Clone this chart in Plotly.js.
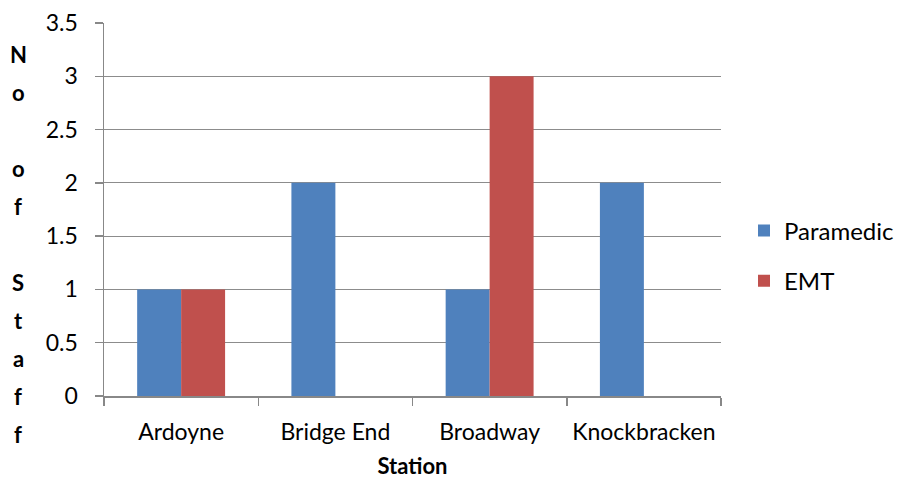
<!DOCTYPE html>
<html><head><meta charset="utf-8">
<script src="https://cdn.plot.ly/plotly-3.0.1.min.js"></script>
<style>html,body{margin:0;padding:0;background:#fff}#chart{width:902px;height:479px}</style>
</head><body><div id="chart"></div>
<script>
const stations = ["Ardoyne", "Bridge End", "Broadway", "Knockbracken"];
const paramedic = [1, 2, 1, 2];
const emt = [1, 0, 3, 0];
const seriesNames = ["Paramedic", "EMT"];
const yTitle = "No of Staff";
const xTitle = "Station";
const yTicks = [0, 0.5, 1, 1.5, 2, 2.5, 3, 3.5];

const FONT = "Lato, sans-serif";
const W = 902, H = 479;
const M = {l: 104, r: 181, t: 23, b: 83};
const plotH = H - M.t - M.b;

// vertical stacked y-axis title, one character per line
const letterAnns = [];
const chars = yTitle.split("");
chars.forEach((c, i) => {
  if (c === " ") return;
  const py = 54 + i * 38;
  letterAnns.push({
    text: "<b>" + c + "</b>", xref: "paper", yref: "paper",
    x: (18 - M.l) / (W - M.l - M.r), y: (H - M.b - py) / plotH,
    xanchor: "center", yanchor: "middle", showarrow: false,
    font: {family: FONT, size: 22, color: "#000"}
  });
});

const data = [
  {type: "bar", name: seriesNames[0], x: stations, y: paramedic,
   marker: {color: "#4F81BD"}, legendgroup: "a"},
  {type: "bar", name: seriesNames[1], x: stations, y: emt,
   marker: {color: "#C0504D"}, legendgroup: "b"}
];

const layout = {
  width: W, height: H, margin: M,
  paper_bgcolor: "#fff", plot_bgcolor: "#fff",
  barmode: "group", bargap: 0.43, bargroupgap: 0,
  font: {family: FONT, size: 23, color: "#000"},
  showlegend: true,
  legend: {xref: "container", yref: "container", x: 744 / W, y: 1 - 256 / H,
           xanchor: "left", yanchor: "middle",
           font: {family: FONT, size: 24, color: "#000"},
           tracegroupgap: 16, bgcolor: "rgba(0,0,0,0)"},
  xaxis: {
    type: "category", showline: true, linecolor: "#888", linewidth: 1.5,
    ticks: "outside", tickson: "boundaries", ticklen: 8, tickcolor: "#888", tickwidth: 1.5,
    showgrid: false, ticklabelstandoff: 15, tickangle: 0,
    tickfont: {family: FONT, size: 23, color: "#000"},
    title: {text: "<b>" + xTitle + "</b>", font: {family: FONT, size: 22, color: "#000"}, standoff: 18}
  },
  yaxis: {
    range: [0, 3.5], tickvals: yTicks, ticktext: yTicks.map(String),
    showline: true, linecolor: "#888", linewidth: 1.5,
    ticks: "outside", ticklen: 8, tickcolor: "#888", tickwidth: 1.5,
    showgrid: true, gridcolor: "#8c8c8c", gridwidth: 1.2, zeroline: false,
    ticklabelstandoff: 12,
    tickfont: {family: FONT, size: 23, color: "#000"}
  },
  annotations: letterAnns
};

Plotly.newPlot("chart", data, layout, {displayModeBar: false, staticPlot: true});
</script>
</body></html>
